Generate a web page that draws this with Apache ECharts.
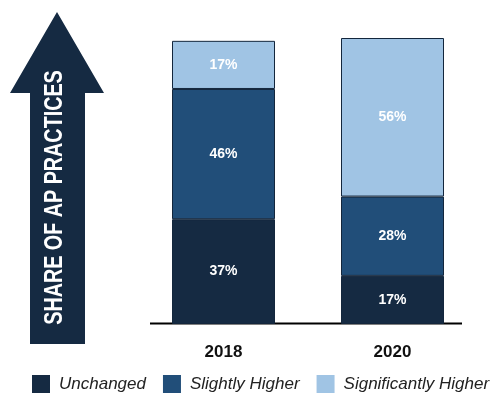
<!DOCTYPE html>
<html><head><meta charset="utf-8">
<script src="https://cdn.jsdelivr.net/npm/echarts@6/dist/echarts.min.js"></script>
<style>html,body{margin:0;padding:0;background:#fff}#c{width:493px;height:400px}</style>
</head><body><div id="c"></div>
<script>
var categories = ['2018', '2020'];
var unchanged = [37, 17];
var slightlyHigher = [46, 28];
var significantlyHigher = [17, 56];
var seriesNames = ['Unchanged', 'Slightly Higher', 'Significantly Higher'];
var colors = ['#152a42', '#214e79', '#a0c4e4'];
var arrowLabel = 'SHARE OF AP PRACTICES';

var chart = echarts.init(document.getElementById('c'), null, {renderer: 'canvas'});
function mk(name, data, color) {
  return {
    name: name, type: 'bar', stack: 'total', data: data, barWidth: 103, clip: false,
    itemStyle: {color: color, borderColor: '#13263c', borderWidth: 1},
    label: {show: true, position: 'inside', color: '#fff', fontSize: 14, fontWeight: 'bold',
      fontFamily: 'Liberation Sans', formatter: '{c}%'}
  };
}
chart.setOption({
  animation: false,
  grid: {left: 139, right: 16, top: 38, bottom: 76},
  xAxis: {type: 'category', data: categories, axisLine: {show: false}, axisTick: {show: false},
    axisLabel: {color: '#111', fontSize: 17, fontWeight: 'bold', fontFamily: 'Liberation Sans', margin: 20}},
  yAxis: {type: 'value', min: 0, max: 101, show: false},
  legend: {left: 32, top: 375, width: 480, padding: 0, itemWidth: 18, itemHeight: 18, itemGap: 17, icon: 'rect',
    itemStyle: {borderWidth: 0},
    textStyle: {fontSize: 17, fontStyle: 'italic', color: '#222', fontFamily: 'Liberation Sans', padding: [0,0,0,4]},
    data: seriesNames},
  graphic: [
    {type: 'line', shape: {x1: 150, y1: 323.5, x2: 462, y2: 323.5}, style: {stroke: '#000', lineWidth: 2}},
    {type: 'polygon', shape: {points: [[57,12],[104,93],[85,93],[85,344],[30,344],[30,93],[10,93]]},
      style: {fill: '#152a42'}},
    {type: 'text', x: 55, y: 197.5, rotation: Math.PI/2, scaleX: 0.79,
      style: {text: arrowLabel, fill: '#fff', fontSize: 25, fontWeight: 'bold', fontFamily: 'Liberation Sans',
        align: 'center', verticalAlign: 'middle'}}
  ],
  series: [
    mk(seriesNames[0], unchanged, colors[0]),
    mk(seriesNames[1], slightlyHigher, colors[1]),
    mk(seriesNames[2], significantlyHigher, colors[2])
  ]
});
</script></body></html>
